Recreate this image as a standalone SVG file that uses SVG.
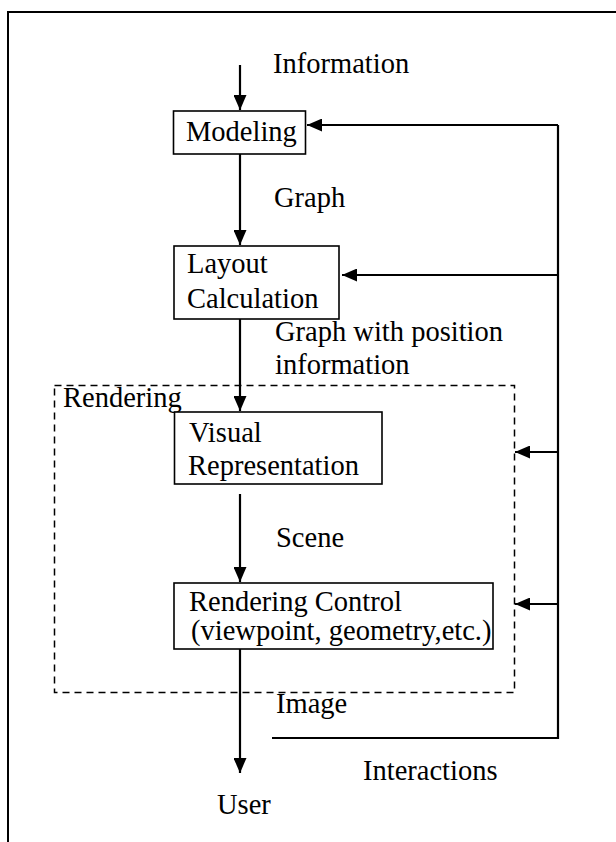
<svg xmlns="http://www.w3.org/2000/svg" width="616" height="842" viewBox="0 0 616 842">
<style>
  text { font-family: "Liberation Serif", "Times New Roman", serif; font-size: 28.5px; fill: #000; }
  .box { fill: #fff; stroke: #000; stroke-width: 1.6; }
  .conn { fill: none; stroke: #000; stroke-width: 2.2; }
  .dash { fill: none; stroke: #000; stroke-width: 1.5; stroke-dasharray: 7 5; }
  .frame { fill: none; stroke: #000; stroke-width: 2; }
</style>
<defs>
  <marker id="ah" markerUnits="userSpaceOnUse" markerWidth="15" markerHeight="13" refX="15" refY="6.5" orient="auto">
    <path d="M0,0 L15,6.5 L0,13 z" fill="#000"/>
  </marker>
</defs>
<rect width="616" height="842" fill="#fff"/>
<path class="frame" d="M8,842 L8,12 L616,12"/>

<g id="rendering-group">
  <rect class="dash" x="54.5" y="385.5" width="460" height="307"/>
  <text x="63" y="407">Rendering</text>
</g>

<g id="connectors">
  <line class="conn" x1="240" y1="65" x2="240" y2="110" marker-end="url(#ah)"/>
  <line class="conn" x1="240" y1="154" x2="240" y2="245" marker-end="url(#ah)"/>
  <line class="conn" x1="240" y1="319" x2="240" y2="411" marker-end="url(#ah)"/>
  <line class="conn" x1="240" y1="494" x2="240" y2="582" marker-end="url(#ah)"/>
  <line class="conn" x1="240" y1="649" x2="240" y2="773" marker-end="url(#ah)"/>
  <path class="conn" d="M272,738 L558,738 L558,125"/>
  <line class="conn" x1="558" y1="125" x2="307" y2="125" marker-end="url(#ah)"/>
  <line class="conn" x1="558" y1="275" x2="342" y2="275" marker-end="url(#ah)"/>
  <line class="conn" x1="558" y1="452" x2="515" y2="452" marker-end="url(#ah)"/>
  <line class="conn" x1="558" y1="604" x2="515" y2="604" marker-end="url(#ah)"/>
</g>

<g id="labels">
  <text x="273" y="73">Information</text>
  <text x="274" y="207">Graph</text>
  <text x="275" y="341">Graph with position</text>
  <text x="275" y="374">information</text>
  <text x="276" y="547">Scene</text>
  <text x="276" y="713">Image</text>
  <text x="363" y="780">Interactions</text>
  <text x="217" y="814">User</text>
</g>

<g id="modeling">
  <rect class="box" x="173.5" y="111" width="132" height="43"/>
  <text x="186" y="141">Modeling</text>
</g>

<g id="layout">
  <rect class="box" x="174" y="246" width="165" height="73"/>
  <text x="187" y="273">Layout</text>
  <text x="187" y="308">Calculation</text>
</g>

<g id="visual">
  <rect class="box" x="174.5" y="412" width="207.5" height="72"/>
  <text x="189" y="442">Visual</text>
  <text x="188" y="475">Representation</text>
</g>

<g id="rendering-control">
  <rect class="box" x="174" y="583" width="319" height="66"/>
  <text x="189" y="611">Rendering Control</text>
  <text x="191" y="640">(viewpoint, geometry,etc.)</text>
</g>
</svg>
